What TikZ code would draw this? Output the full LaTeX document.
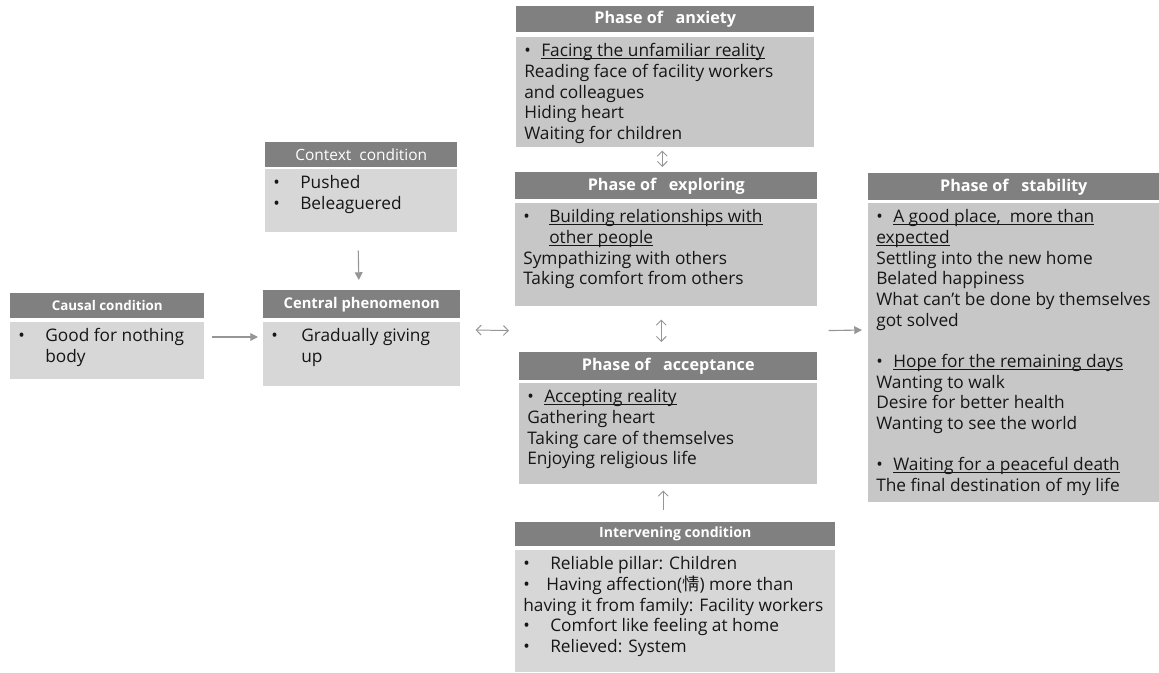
\documentclass[tikz,border=0pt]{standalone}
\usepackage{fontspec}
\setmainfont{Open Sans}
\newfontfamily\krfont{Noto Sans CJK KR}
\usepackage{xcolor}
\usepackage{tikz}
\usetikzlibrary{arrows.meta, positioning, calc}
\definecolor{hdrgray}{RGB}{128,128,128}
\definecolor{condgray}{RGB}{215,215,215}
\definecolor{phasegray}{RGB}{199,199,199}
\definecolor{txtdark}{RGB}{22,22,22}
\definecolor{arrgray}{RGB}{150,150,150}
\newlength{\pxu}
\setlength{\pxu}{0.025cm}
\newcommand{\tabitem}[1]{\makebox[27\pxu][l]{\textbullet}#1}
\newcommand{\dotitem}[1]{\makebox[17\pxu][l]{\textbullet}#1}
\newcommand{\uword}[1]{\setbox0\hbox{#1}\rlap{\rule[-2.5\pxu]{\wd0}{0.9\pxu}}\box0}
\newcommand{\boxtext}[3]{\parbox[t][#2\pxu][t]{#1\pxu}{\begin{tabular}[t]{@{}l@{}}#3\end{tabular}}}
\tikzset{
  hdr/.style={rectangle, fill=hdrgray, text=white, anchor=north west, inner sep=0pt, font=\bfseries\fontsize{11.5}{14}\selectfont},
  condbox/.style={rectangle, fill=condgray, text=txtdark, anchor=north west, inner xsep=8\pxu, inner ysep=5\pxu, font=\fontsize{12.3}{14.7}\selectfont},
  phasebox/.style={condbox, fill=phasegray},
  fillarrow/.style={-{Triangle[length=5.5pt, width=5.5pt]}, line width=0.8pt, color=arrgray},
  openarrow/.style={{Straight Barb[length=3.5pt, width=7pt]}-{Straight Barb[length=3.5pt, width=7pt]}, line width=0.7pt, color=arrgray},
  uparrow/.style={-{Straight Barb[length=3.5pt, width=7pt]}, line width=0.7pt, color=arrgray}
}
\begin{document}
\begin{tikzpicture}[x=0.025cm, y=-0.025cm]
  \useasboundingbox (0,0) rectangle (1159,672);

  % Conditions
  \node[hdr, minimum width=194\pxu, minimum height=25\pxu, font=\bfseries\fontsize{9.5}{11}\selectfont] (causalhd) at (10,293) {Causal condition};
  \node[condbox] (causal) at (10,322) {\boxtext{178}{47}{\tabitem{Good for nothing}\\ \hspace*{27\pxu}body}};

  \node[hdr, minimum width=192\pxu, minimum height=25\pxu, font=\fontsize{11}{12}\selectfont] (contexthd) at (265,142) {Context\ \ condition};
  \node[condbox] (context) at (265,169) {\boxtext{176}{53}{\tabitem{Pushed}\\ \tabitem{Beleaguered}}};

  \node[hdr, minimum width=197\pxu, minimum height=28\pxu, font=\bfseries\fontsize{10.5}{12}\selectfont] (centralhd) at (263,290) {Central phenomenon};
  \node[condbox] (central) at (263,322) {\boxtext{181}{54}{\makebox[30\pxu][l]{\textbullet}Gradually giving\\ \hspace*{30\pxu}up}};

  \node[hdr, minimum width=320\pxu, minimum height=24\pxu, font=\bfseries\fontsize{10}{12}\selectfont] (intervenhd) at (515,522) {Intervening condition};
  \node[condbox] (intervening) at (515,550) {\boxtext{304}{112}{\tabitem{Reliable pillar: Children}\\
    \makebox[23\pxu][l]{\textbullet}Having affection({\krfont 情}) more than\\
    having it from family: Facility workers\\
    \tabitem{Comfort like feeling at home}\\
    \tabitem{Relieved: System}}};

  % Phases
  \node[hdr, minimum width=298\pxu, minimum height=26\pxu] (anxietyhd) at (516,6) {Phase of\ \ \ anxiety};
  \node[phasebox] (anxiety) at (516,37) {\boxtext{282}{100}{\dotitem{\uword{Facing the unfamiliar reality}}\\
    Reading face of facility workers\\
    and colleagues\\
    Hiding heart\\
    Waiting for children}};

  \node[hdr, minimum width=302\pxu, minimum height=27\pxu] (exploringhd) at (515,172) {Phase of\ \ \ exploring};
  \node[phasebox] (exploring) at (515,203) {\boxtext{286}{93}{\makebox[26\pxu][l]{\textbullet}\uword{Building relationships with}\\
    \hspace*{26\pxu}\uword{other people}\\
    Sympathizing with others\\
    Taking comfort from others}};

  \node[hdr, minimum width=298\pxu, minimum height=28\pxu] (acceptancehd) at (519,352) {Phase of\ \ \ acceptance};
  \node[phasebox] (acceptance) at (519,383) {\boxtext{282}{91}{\dotitem{\uword{Accepting reality}}\\
    Gathering heart\\
    Taking care of themselves\\
    Enjoying religious life}};

  \node[hdr, minimum width=291\pxu, minimum height=27\pxu] (stabilityhd) at (868,173) {Phase of\ \ \ stability};
  \node[phasebox] (stability) at (868,203) {\boxtext{275}{289}{\dotitem{\uword{A good place,\ \ more than}}\\
    \uword{expected}\\
    Settling into the new home\\
    Belated happiness\\
    What can’t be done by themselves\\
    got solved\\
    \\
    \dotitem{\uword{Hope for the remaining days}}\\
    Wanting to walk\\
    Desire for better health\\
    Wanting to see the world\\
    \\
    \dotitem{\uword{Waiting for a peaceful death}}\\
    The final destination of my life}};

  % Arrows
  \draw[fillarrow] ($(causal.north east)+(7,15)$) -- ($(central.north west)+(-5,15)$);
  \draw[fillarrow] ($(context.south)+(-3,18)$) -- ($(centralhd.north)+(-3,-10)$);
  \draw[openarrow] ($(central.north east)+(15,8)$) -- ($(exploring.south west)+(-6,24)$);
  \draw[fillarrow] ($(exploring.south east)+(11,24)$) -- ($(stability.north west)+(-6,127)$);
  \draw[openarrow] ($(anxiety.south)+(-3,3)$) -- ($(exploringhd.north)+(-4,-5)$);
  \draw[openarrow] ($(exploring.south)+(-5,13)$) -- ($(acceptancehd.north)+(-7,-10)$);
  \draw[uparrow] ($(intervenhd.north)+(-12,-12)$) -- ($(acceptance.south)+(-5,6)$);
\end{tikzpicture}
\end{document}
